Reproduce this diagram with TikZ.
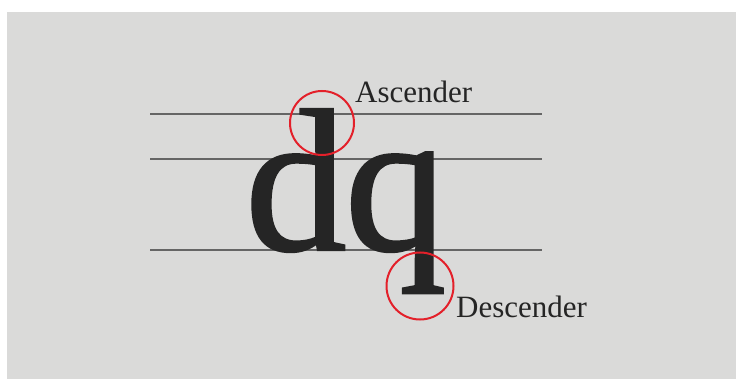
\documentclass[tikz,border=0pt]{standalone}
\usepackage{fontspec}
\setmainfont{Liberation Serif}
\newfontfamily\heavyserif[FakeBold=1.2]{Liberation Serif}
\definecolor{paper}{HTML}{DADAD9}
\definecolor{ink}{HTML}{252525}
\definecolor{guide}{HTML}{656565}
\definecolor{mark}{HTML}{E3202A}
\begin{document}
\begin{tikzpicture}[
        x=1pt, y=-1pt,
        guideline/.style={draw=guide, line width=1.1pt},
        ring/.style={circle, draw=mark, line width=2pt, minimum size=64pt, inner sep=0pt},
        label/.style={anchor=base west, inner sep=0pt, text=ink, font=\fontsize{31}{31}\selectfont},
      ]

      \fill[white] (0,0) rectangle (736,379);
      \fill[paper] (7,12) rectangle (736,379);

      % guide lines
      \coordinate (ascL) at (150,114);
      \coordinate (ascR) at (542,114);
      \coordinate (xL) at (150,159);
      \coordinate (xR) at (542,159);
      \coordinate (baseL) at (150,250);
      \coordinate (baseR) at (542,250);
      \draw[guideline] (ascL) -- (ascR);
      \draw[guideline] (xL) -- (xR);
      \draw[guideline] (baseL) -- (baseR);

      \node[anchor=base west, inner sep=0pt, text=ink,
        font=\heavyserif\fontsize{203}{203}\selectfont] (letters) at (245,250) {d\kern-2pt q};

      \node[ring] (asc) at (322,123) {};
      \node[ring, minimum size=67pt] (desc) at (420,286) {};

      \node[label] (asctext) at (355,103) {Ascender};
      \node[label] (desctext) at (456,317) {Descender};

    \end{tikzpicture}
\end{document}
